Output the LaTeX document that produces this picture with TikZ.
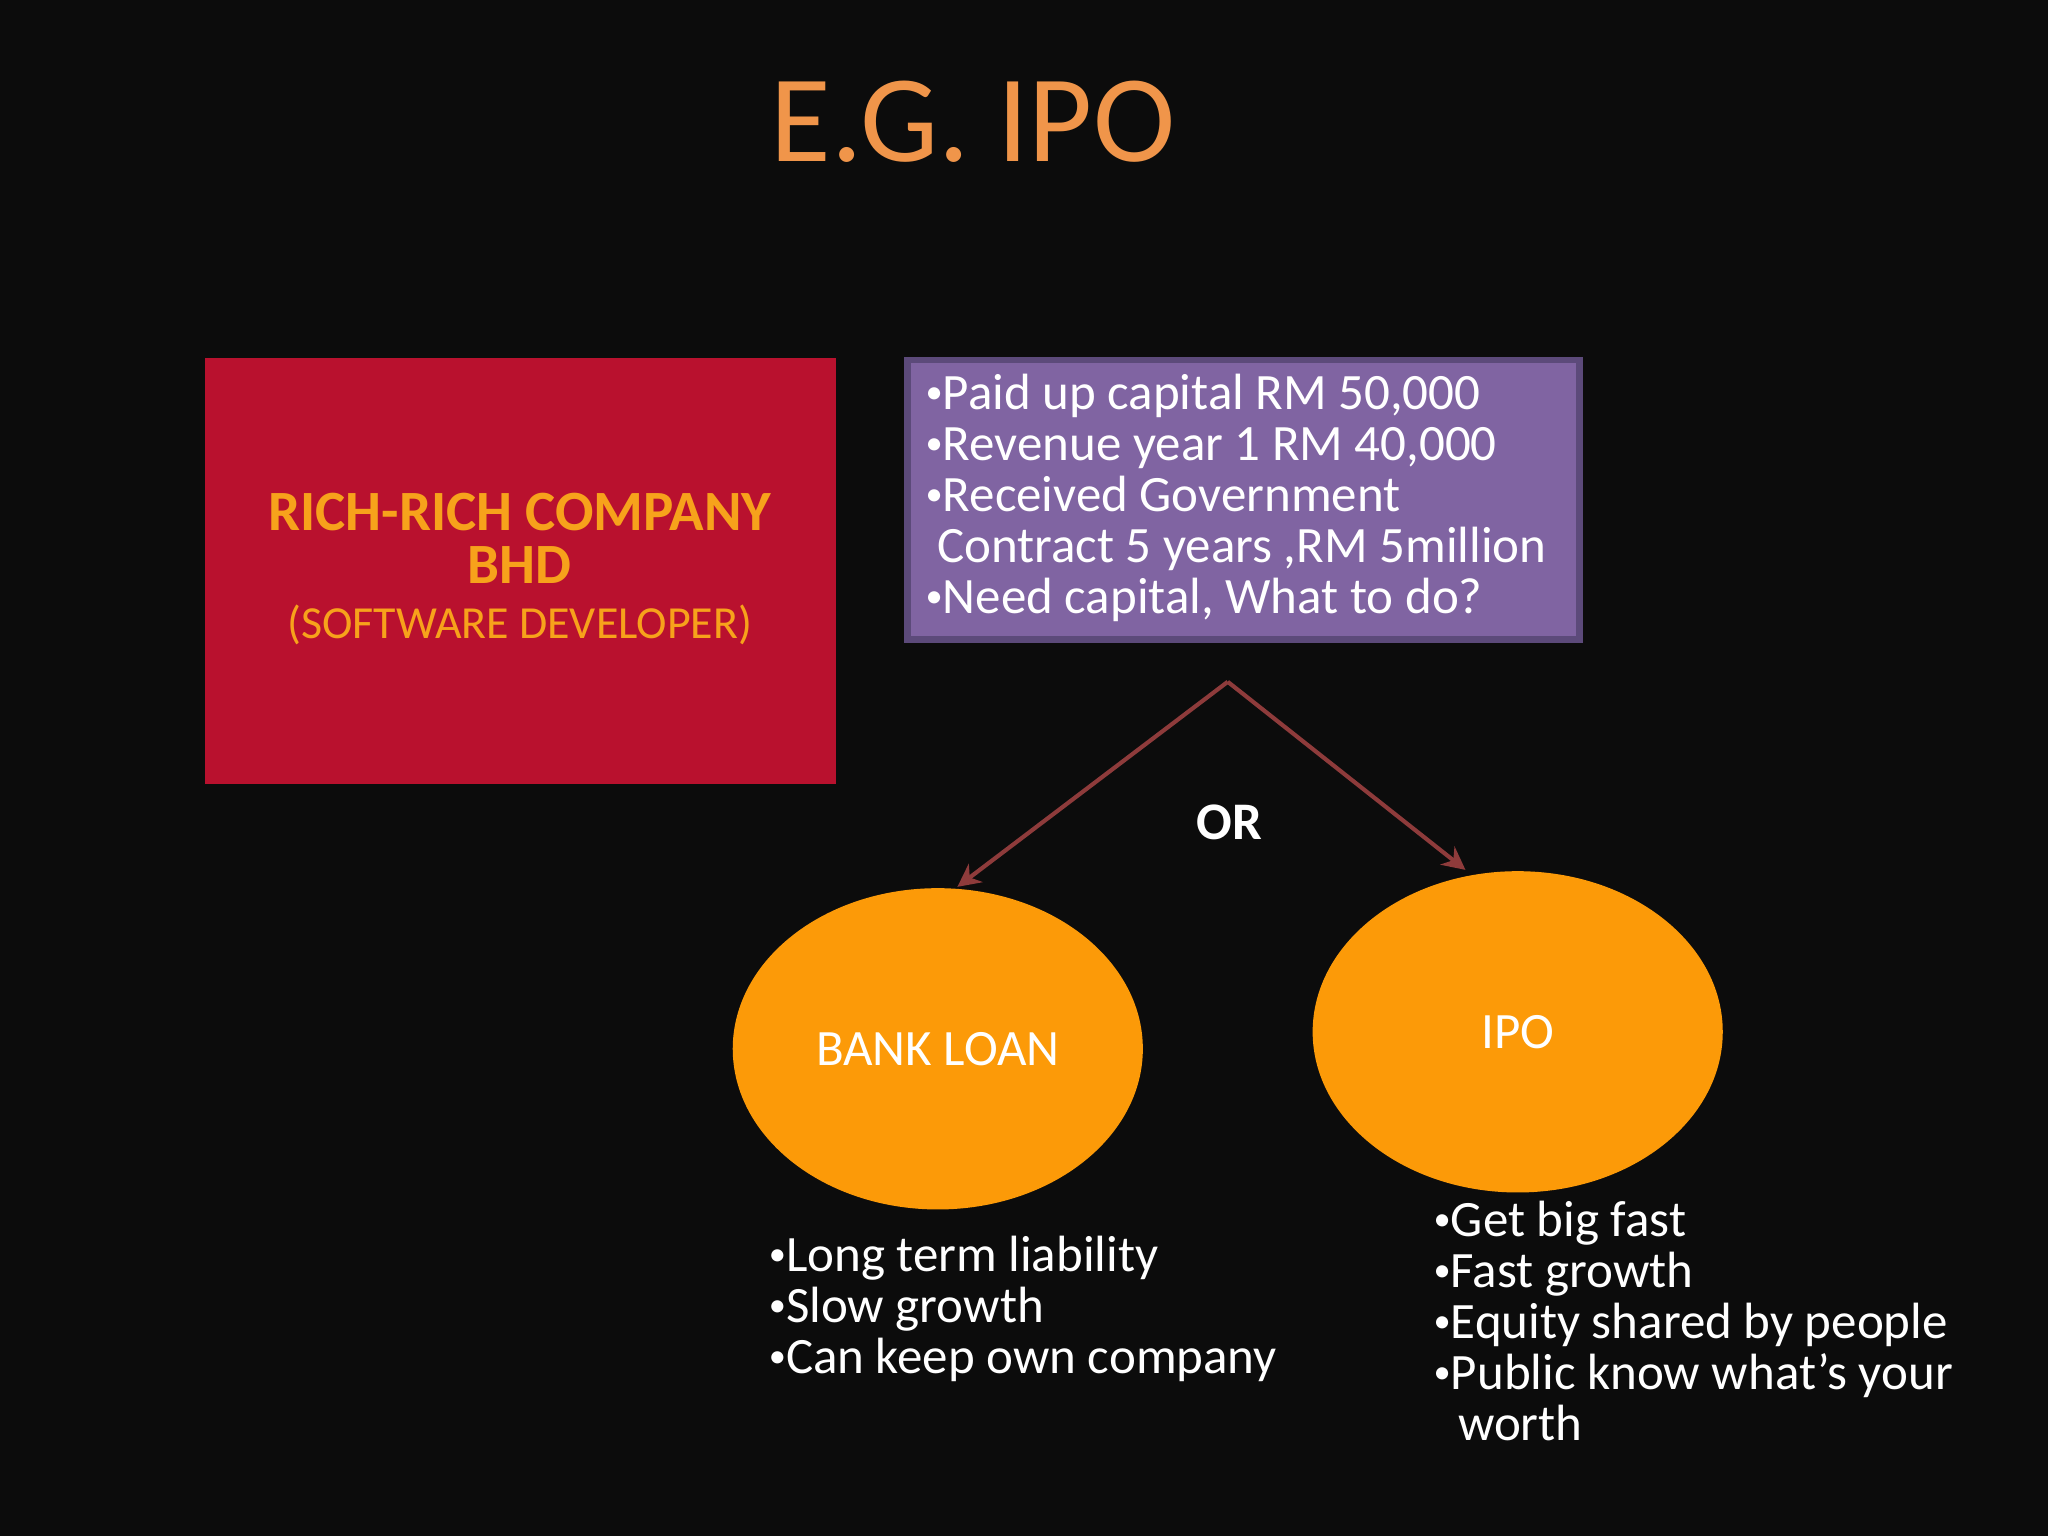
\documentclass[tikz,border=0pt]{standalone}
\usepackage{fontspec}
\setmainfont{Carlito}
\usetikzlibrary{shapes.geometric,arrows.meta}
\definecolor{bg}{HTML}{0C0C0C}
\definecolor{ttl}{HTML}{F0954A}
\definecolor{redbox}{HTML}{B9112E}
\definecolor{redtxt}{HTML}{F7A21B}
\definecolor{purp}{HTML}{8064A2}
\definecolor{purpd}{HTML}{5C4A7A}
\definecolor{arr}{HTML}{8E3B3B}
\definecolor{orng}{HTML}{FC9A08}
\newcommand\bul{\raisebox{0.25ex}{\fontsize{7.5}{7.5}\selectfont•}}
\newlength\unit \setlength\unit{0.01cm}
\tikzset{
  body/.style={text=white,font=\fontsize{11.1}{11.1}\selectfont,align=left,inner sep=0pt},
  oval/.style={ellipse,inner sep=0pt,fill=orng,minimum width=314\unit,minimum height=246\unit,text=white,font=\fontsize{11.1}{13}\selectfont},
  conn/.style={draw=arr,line width=0.9pt,-{Stealth[length=5pt,width=5pt]}}
}
\begin{document}
\begin{tikzpicture}[x=0.01cm,y=-0.01cm]
\fill[bg] (0,0) rectangle (1568,1176);
\node[text=ttl,font=\fontsize{27}{30}\selectfont] (title) at (745,93) {E.G. IPO};
\fill[redbox] (157,274) rectangle (640,600);
\node[text=redtxt,align=center,inner sep=0pt] (co) at (398,436)
  {{\fontsize{12.4}{12}\selectfont\bfseries RICH-RICH COMPANY}\\[-0.5pt]{\fontsize{12.4}{12}\selectfont\bfseries BHD}\\[0pt]{\fontsize{10}{12}\selectfont (SOFTWARE DEVELOPER)}};
\node[draw=purpd,line width=1.5pt,fill=purp,minimum width=515\unit,minimum height=214\unit,anchor=north west] (info) at (692,273) {};
\node[body,anchor=north west] (infot) at (708,286)
  {\bul Paid up capital RM 50,000\\\bul Revenue year 1 RM 40,000\\\bul Received Government\\\ Contract 5 years ,RM 5million\\\bul Need capital, What to do?};
\coordinate (top) at (940,522);
\node[oval] (bank) at (718,803) {BANK LOAN};
\node[oval] (ipo) at (1162,790) {IPO};
\draw[conn] (top) -- (733,679);
\draw[conn] (top) -- (1122,666);
\node[text=white,font=\fontsize{11.5}{14}\selectfont\bfseries] (or) at (941,630) {OR};
\node[body,anchor=north west] (bl) at (588,946)
  {\bul Long term liability\\\bul Slow growth\\\bul Can keep own company};
\node[body,anchor=north west] (il) at (1097,919)
  {\bul Get big fast\\\bul Fast growth\\\bul Equity shared by people\\\bul Public know what\char39 s your\\\hspace{5.3pt}worth};
\end{tikzpicture}
\end{document}
